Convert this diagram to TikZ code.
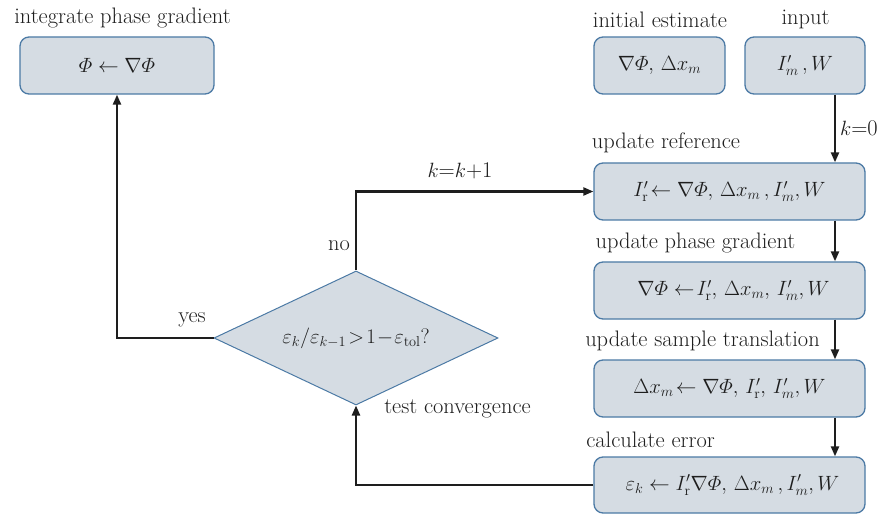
\documentclass[tikz,border=0pt]{standalone}
\usepackage{amsmath}
\usetikzlibrary{shapes.geometric,arrows.meta}
\definecolor{boxfill}{HTML}{D5DCE3}
\definecolor{boxline}{HTML}{4C7AA5}
\definecolor{ink}{HTML}{1E1E1E}
\begin{document}
\begin{tikzpicture}[x=1bp,y=-1bp,
  box/.style={draw=boxline, fill=boxfill, line width=1.3bp, rounded corners=9bp,
    inner sep=0pt, text=ink, font=\fontsize{22.5}{26}\selectfont},
  lbl/.style={font=\fontsize{22.5}{26}\selectfont, text=ink, inner sep=0pt},
  flow/.style={draw=ink, line width=2.2bp, -{Triangle[length=10bp,width=8bp]}}]
\useasboundingbox (0,0) rectangle (879,514);

% process boxes
\node[box, minimum width=194bp, minimum height=57bp] (integ) at (117,65.5)
  {$\varPhi \leftarrow \nabla\varPhi$};
\node[box, minimum width=131bp, minimum height=57bp] (init) at (659.5,65.5)
  {$\nabla\varPhi,\, \Delta x_m$};
\node[box, minimum width=120bp, minimum height=57bp] (input) at (805,65.5)
  {$I'_m\,,W$};
\node[box, minimum width=271bp, minimum height=57bp] (upref) at (729.5,191.5)
  {$I'_{\mathrm{r}}\!\leftarrow \nabla\varPhi,\, \Delta x_m\,, I'_m,W$};
\node[box, minimum width=271bp, minimum height=57bp] (upphase) at (729.5,290.5)
  {\hspace*{8bp}$\nabla\varPhi \leftarrow\! I'_{\mathrm{r}},\, \Delta x_m,\, I'_m,W$};
\node[box, minimum width=271bp, minimum height=57bp] (upshift) at (729.5,388.5)
  {$\Delta x_m\!\leftarrow \nabla\varPhi,\, I'_{\mathrm{r}},\, I'_m,W$};
\node[box, minimum width=271bp, minimum height=56bp] (calc) at (729.5,485)
  {\hspace*{6bp}$\varepsilon_k \leftarrow I'_{\mathrm{r}}\nabla\varPhi,\, \Delta x_m\,, I'_m,W$};

% decision
\node[diamond, draw=boxline, fill=boxfill, line width=1bp, inner sep=0pt,
  minimum width=284bp, minimum height=134bp, aspect=2.12, text=ink,
  font=\fontsize{21}{24}\selectfont] (test) at (356,338)
  {$\varepsilon_k/\varepsilon_{k-1}\!>\!1\!-\!\varepsilon_{\mathrm{tol}}$?};

% captions
\node[lbl] (tinteg) at (122.5,18) {integrate phase gradient};
\node[lbl] (tinit) at (660,20) {initial estimate};
\node[lbl] (tinput) at (805.5,19) {input};
\node[lbl] (tupref) at (666,143) {update reference};
\node[lbl] (tupphase) at (695.5,243) {update phase gradient};
\node[lbl] (tupshift) at (702.5,341) {update sample translation};
\node[lbl] (tcalc) at (650.5,440) {calculate error};

% connectors
\coordinate (col) at (835,0);
\draw[flow] (input.south -| col) -- node[lbl, right=4bp] (lk0) {$k$=0} (upref.north -| col);
\draw[flow] (upref.south -| col) -- (upphase.north -| col);
\draw[flow] (upphase.south -| col) -- (upshift.north -| col);
\draw[flow] (upshift.south -| col) -- (calc.north -| col);
\draw[flow] (calc.west) -| (test.south);
\draw[flow] (test.north) |- (upref.west);
\draw[flow] (test.west) -| (integ.south);

% branch labels
\node[lbl] (lnext) at (460,171) {$k$=$k$+1};
\node[lbl] (lno) at (339,246) {no};
\node[lbl] (lyes) at (192,320) {yes};
\node[lbl] (lconv) at (457.5,409) {test convergence};
\end{tikzpicture}
\end{document}
